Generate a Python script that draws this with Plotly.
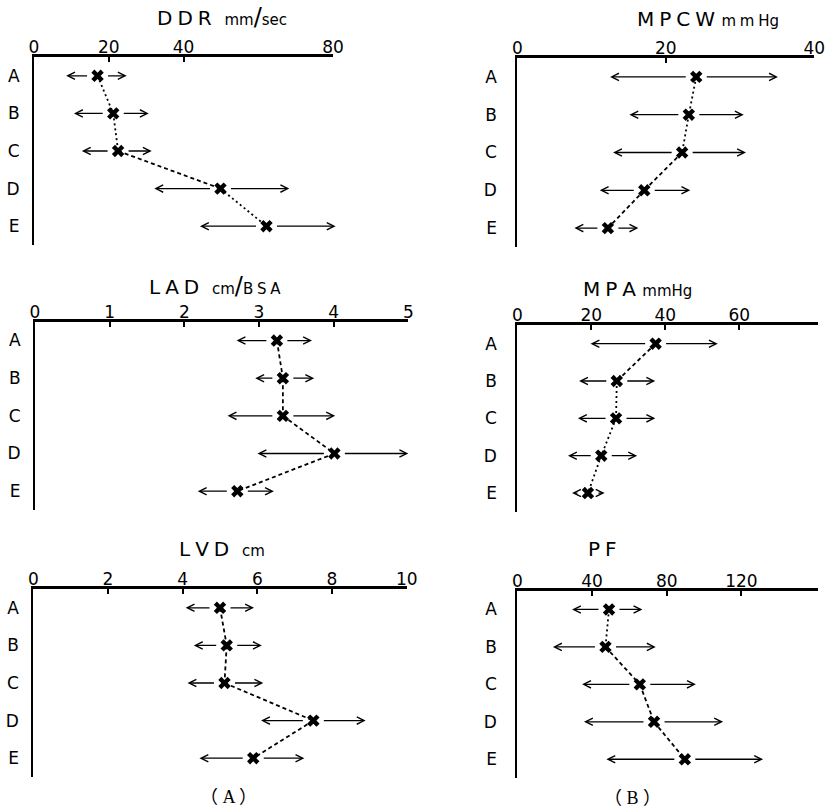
import plotly.graph_objects as go

# ---------------- data ----------------
cats = ["A", "B", "C", "D", "E"]

ddr_mean = [17.0, 21.2, 22.5, 49.9, 62.2]
ddr_low = [8.6, 10.7, 12.8, 32.2, 44.4]
ddr_high = [24.8, 30.7, 31.5, 68.3, 80.7]

mpcw_mean = [24.1, 23.1, 22.2, 17.1, 12.2]
mpcw_low = [12.5, 15.1, 12.9, 11.1, 7.7]
mpcw_high = [35.1, 30.5, 30.8, 23.3, 16.3]

lad_mean = [3.24, 3.32, 3.32, 4.01, 2.71]
lad_low = [2.70, 2.95, 2.58, 2.98, 2.18]
lad_high = [3.71, 3.74, 4.02, 5.00, 3.20]

mpa_mean = [37.4, 26.9, 26.7, 22.7, 19.1]
mpa_low = [19.8, 16.7, 16.4, 13.7, 14.8]
mpa_high = [54.2, 37.3, 37.3, 32.4, 23.6]

lvd_mean = [5.00, 5.18, 5.12, 7.50, 5.89]
lvd_low = [4.08, 4.30, 4.13, 6.10, 4.45]
lvd_high = [5.91, 6.12, 6.16, 8.90, 7.26]

pf_mean = [49.1, 47.2, 65.6, 73.2, 89.7]
pf_low = [29.3, 19.1, 34.7, 35.7, 47.7]
pf_high = [67.0, 74.1, 95.6, 110.2, 131.6]

ddr_ticks = [0, 20, 40, 80]
mpcw_ticks = [0, 20, 40]
lad_ticks = [0, 1, 2, 3, 4, 5]
mpa_ticks = [0, 20, 40, 60]
lvd_ticks = [0, 2, 4, 6, 8, 10]
pf_ticks = [0, 40, 80, 120]

# ---------------- layout helpers ----------------
W, H = 826, 811
def fx(p):
    return p / W
def fy(p):
    return 1 - p / H

DOT = "2px,3px"
DASH = "4px,3px"

panels = [
    dict(mean=ddr_mean, low=ddr_low, high=ddr_high, ticks=ddr_ticks, xr=[0, 80],
         xd=(34, 333), yd=(57, 245), seg=[DOT, DOT, DASH, DOT], so=9),
    dict(mean=mpcw_mean, low=mpcw_low, high=mpcw_high, ticks=mpcw_ticks, xr=[0, 40],
         xd=(517.3, 814.3), yd=(58, 247), seg=[DOT, DOT, DASH, DASH], so=15),
    dict(mean=lad_mean, low=lad_low, high=lad_high, ticks=lad_ticks, xr=[0, 5],
         xd=(35, 408.3), yd=(321.7, 510), seg=[DASH, DASH, DASH, DASH], so=9),
    dict(mean=mpa_mean, low=mpa_low, high=mpa_high, ticks=mpa_ticks, xr=[0, 81.3],
         xd=(517.3, 818), yd=(325, 511.7), seg=[DASH, DOT, DOT, DOT], so=15),
    dict(mean=lvd_mean, low=lvd_low, high=lvd_high, ticks=lvd_ticks, xr=[0, 10],
         xd=(33.3, 406.7), yd=(589, 777), seg=[DASH, DASH, DASH, DASH], so=9),
    dict(mean=pf_mean, low=pf_low, high=pf_high, ticks=pf_ticks, xr=[0, 161],
         xd=(517.3, 818), yd=(590.7, 778), seg=[DOT, DASH, DASH, DASH], so=15),
]

fig = go.Figure()
annotations = []
layout = {}
FONT = "DejaVu Sans"
idx = list(range(len(cats)))

for k, p in enumerate(panels):
    n = "" if k == 0 else str(k + 1)
    xa, ya = "x" + n, "y" + n
    # connecting line segments
    for i in range(len(cats) - 1):
        fig.add_trace(go.Scatter(
            x=[p["mean"][i], p["mean"][i + 1]], y=[i, i + 1], mode="lines",
            line=dict(color="black", width=1.8, dash=p["seg"][i]),
            xaxis=xa, yaxis=ya, showlegend=False, hoverinfo="skip"))
    # markers
    fig.add_trace(go.Scatter(
        x=p["mean"], y=idx, mode="markers",
        marker=dict(symbol="x", size=11, color="black", line=dict(width=0)),
        xaxis=xa, yaxis=ya, showlegend=False, cliponaxis=False))
    # range arrows
    for i in idx:
        for tip in (p["low"][i], p["high"][i]):
            annotations.append(dict(
                x=tip, y=i, ax=p["mean"][i], ay=i,
                xref=xa, yref=ya, axref=xa, ayref=ya,
                text="", showarrow=True, arrowhead=5, arrowsize=1.1,
                arrowwidth=1.3, arrowcolor="black", startstandoff=9))
    layout["xaxis" + n] = dict(
        domain=[fx(p["xd"][0]), fx(p["xd"][1])], range=p["xr"], anchor=ya,
        side="top", showline=True, linewidth=3, linecolor="black",
        tickvals=p["ticks"], ticktext=[str(t) for t in p["ticks"]],
        ticks="inside", ticklen=5, tickwidth=2, tickcolor="black",
        showgrid=False, zeroline=False, automargin=False,
        ticklabelstandoff=-6, ticklabeloverflow="allow",
        tickfont=dict(family=FONT, size=17, color="black"))
    layout["yaxis" + n] = dict(
        domain=[fy(p["yd"][1]), fy(p["yd"][0])], range=[4.5, -0.5], anchor=xa,
        showline=True, linewidth=2, linecolor="black", automargin=False,
        tickvals=idx, ticktext=cats, ticks="", showgrid=False, zeroline=False,
        ticklabelstandoff=p["so"],
        tickfont=dict(family=FONT, size=17, color="black"))

# panel titles
def title(text, cx, cy):
    annotations.append(dict(text=text, x=fx(cx), y=fy(cy), xref="paper", yref="paper",
                            xanchor="center", yanchor="middle", showarrow=False,
                            font=dict(family=FONT, size=20, color="black")))

T = "\u2005"
def unit(a, b=None):
    s = "<span style='font-size:15px'>" + a + "</span>"
    if b is not None:
        s += "<span style='font-size:24px'>/</span><span style='font-size:15px'>" + b + "</span>"
    return s

title("D" + T + "D" + T + "R  " + unit("mm", "sec"), 222, 17)
title("M" + T + "P" + T + "C" + T + "W " + unit("m" + T + "m" + T + "Hg"), 708, 19)
title("L" + T + "A" + T + "D  " + unit("cm", "B" + T + "S" + T + "A"), 215, 286)
title("M" + T + "P" + T + "A " + unit("mmHg"), 637, 289)
title("L" + T + "V" + T + "D  " + unit("cm"), 222, 549)
title("P" + T + "F", 602, 549)

for lbl, cx, cy in [("（ A ）", 228, 797), ("（ B ）", 632, 798)]:
    annotations.append(dict(text=lbl, x=fx(cx), y=fy(cy), xref="paper", yref="paper",
                            xanchor="center", yanchor="middle", showarrow=False,
                            font=dict(family="Liberation Serif, Noto Sans CJK JP", size=18, color="black")))

fig.update_layout(
    width=W, height=H, margin=dict(l=0, r=0, t=0, b=0),
    paper_bgcolor="white", plot_bgcolor="white",
    annotations=annotations, **layout)

fig.write_html("out.html", config={"displayModeBar": False},
               post_script="document.body.style.margin='0';document.body.style.padding='0';")
